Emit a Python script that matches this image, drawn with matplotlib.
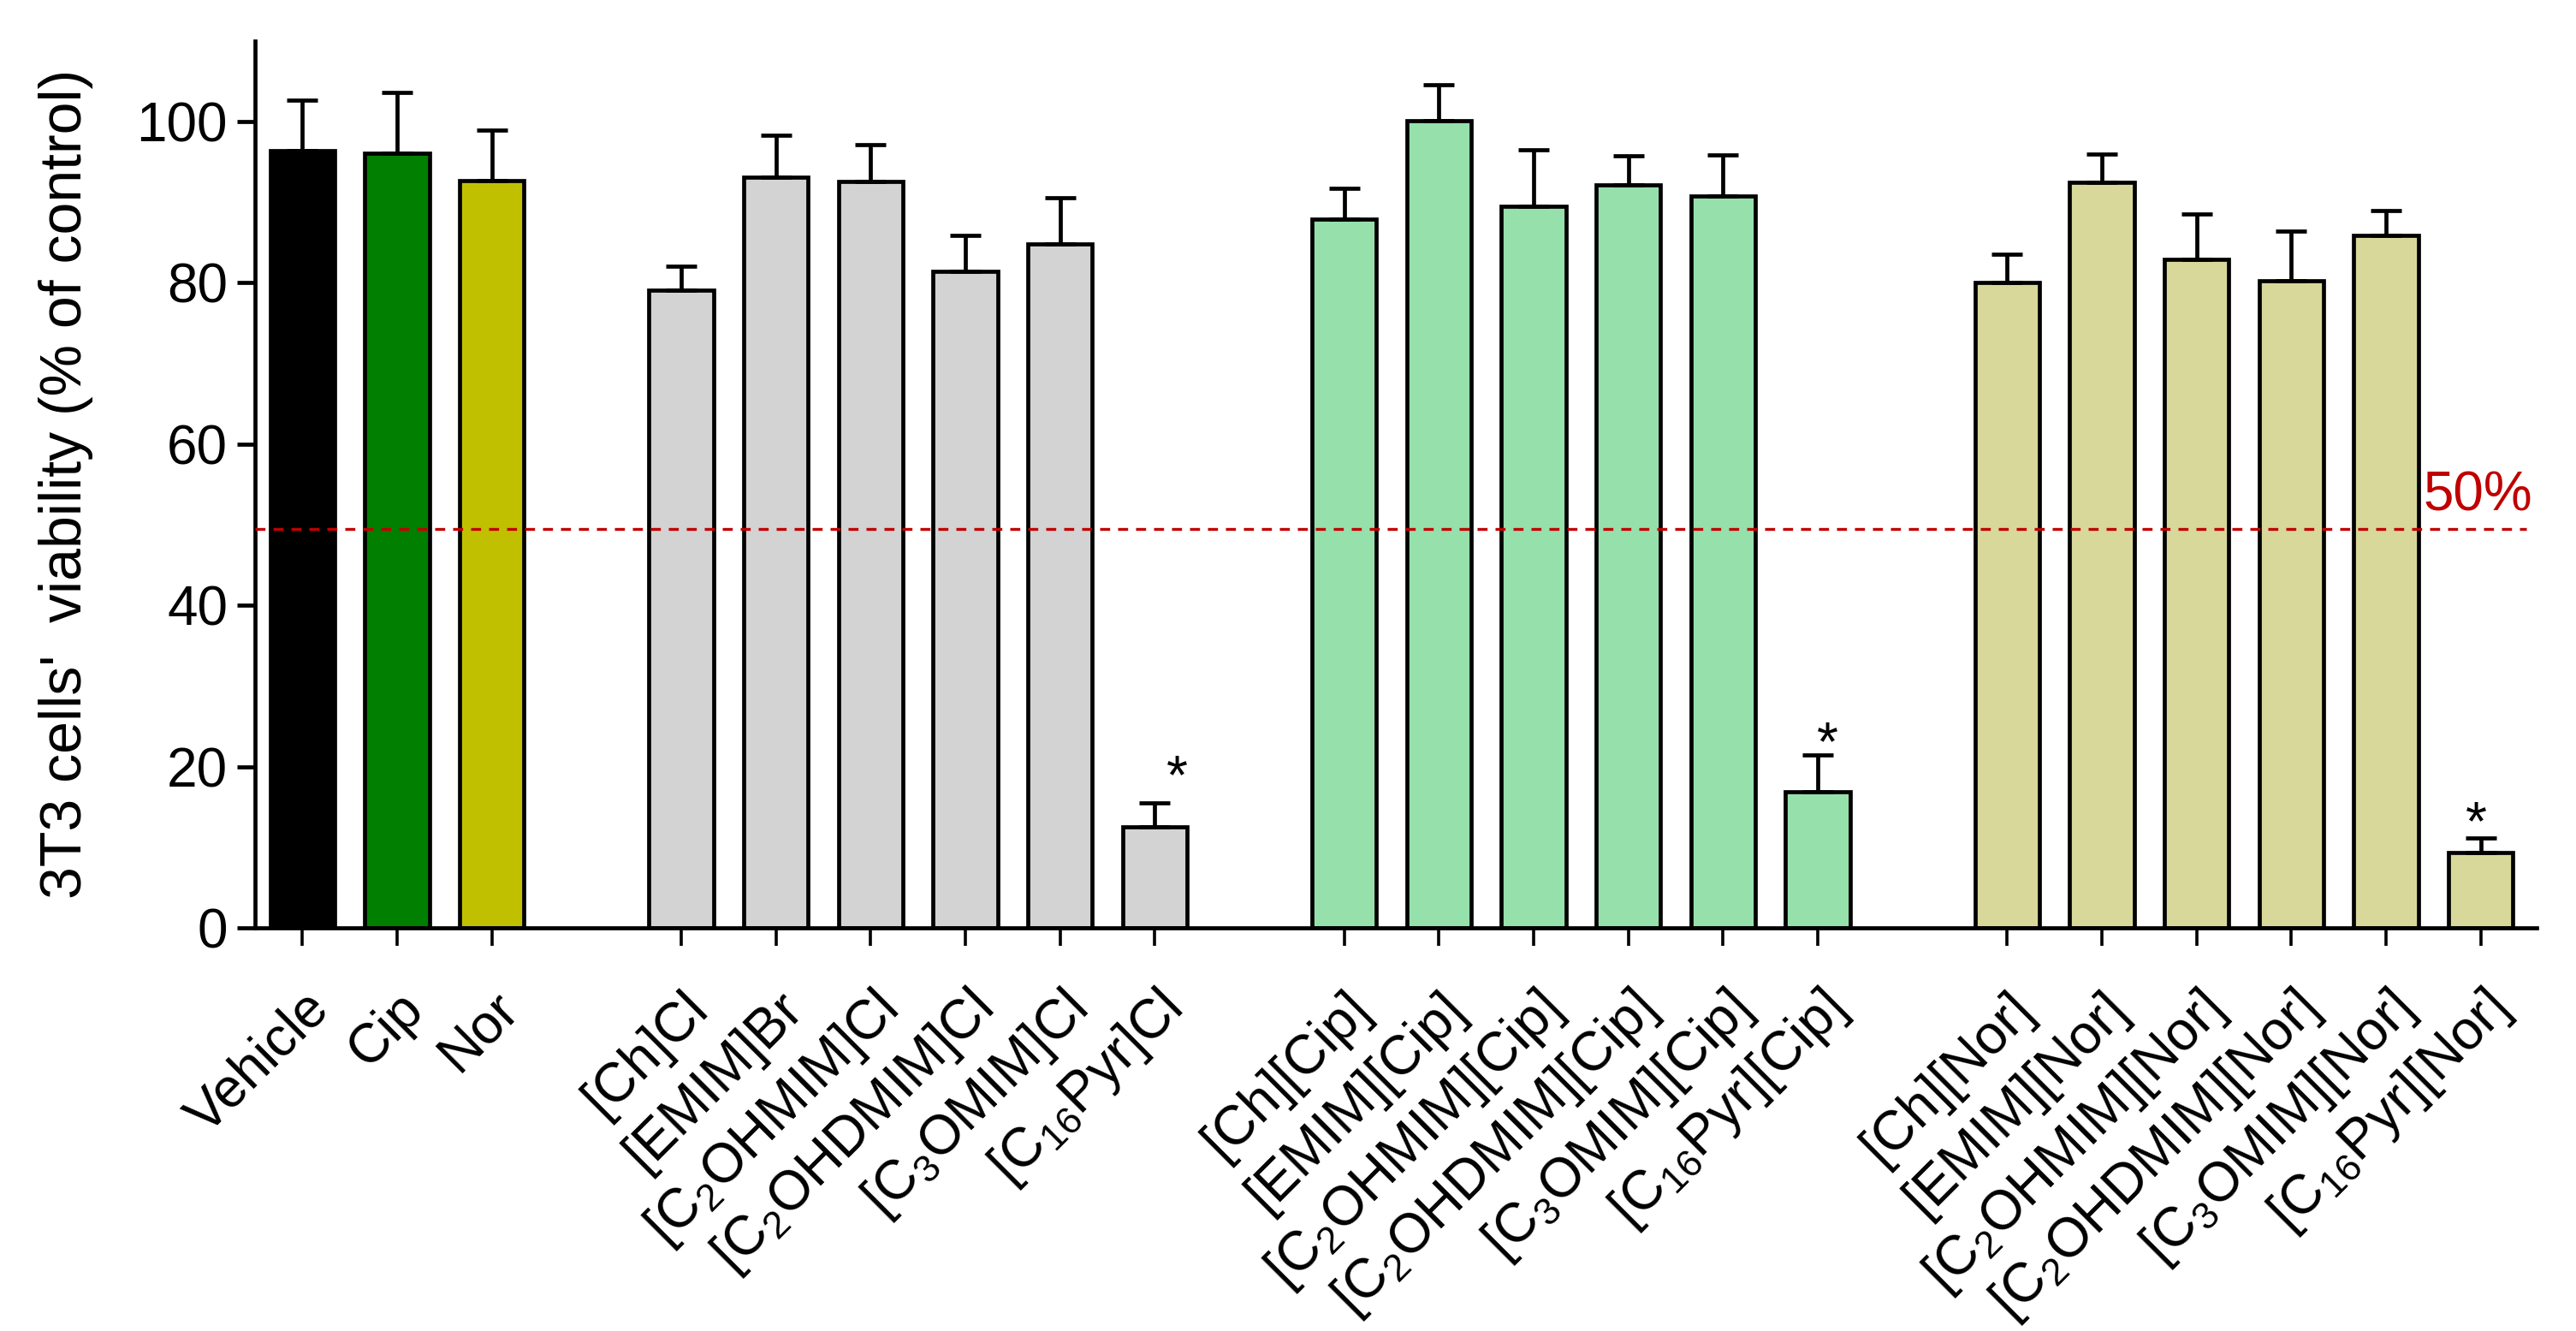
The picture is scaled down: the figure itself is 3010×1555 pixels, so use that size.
import numpy as np
import matplotlib
matplotlib.use("Agg")
import matplotlib.pyplot as plt
from matplotlib.transforms import offset_copy

plt.rcParams["font.family"] = ["Liberation Sans", "DejaVu Sans"]
plt.rcParams["mathtext.default"] = "regular"

# bar labels, x slots (gaps between groups) and values
labels = ["Vehicle", "Cip", "Nor",
          "[Ch]Cl", "[EMIM]Br", "[C$_2$OHMIM]Cl", "[C$_2$OHDMIM]Cl", "[C$_3$OMIM]Cl", "[C$_{16}$Pyr]Cl",
          "[Ch][Cip]", "[EMIM][Cip]", "[C$_2$OHMIM][Cip]", "[C$_2$OHDMIM][Cip]", "[C$_3$OMIM][Cip]", "[C$_{16}$Pyr][Cip]",
          "[Ch][Nor]", "[EMIM][Nor]", "[C$_2$OHMIM][Nor]", "[C$_2$OHDMIM][Nor]", "[C$_3$OMIM][Nor]", "[C$_{16}$Pyr][Nor]"]
positions = [0, 1, 2, 4, 5, 6, 7, 8, 9, 11, 12, 13, 14, 15, 16, 18, 19, 20, 21, 22, 23]
means = [96.4, 96.1, 92.7,
         79.1, 93.1, 92.6, 81.4, 84.8, 12.5,
         87.9, 100.1, 89.5, 92.1, 90.8, 16.9,
         80.0, 92.5, 82.9, 80.3, 85.9, 9.3]
errors = [6.2, 7.5, 6.2,
          3.0, 5.2, 4.5, 4.5, 5.7, 3.0,
          3.8, 4.5, 7.0, 3.7, 5.1, 4.5,
          3.5, 3.5, 5.6, 6.1, 3.1, 1.8]
colors = ["#000000", "#007F00", "#C0C000"] + ["#D3D3D3"] * 6 + ["#96E0AB"] * 6 + ["#D8D89B"] * 6

# significance stars: bar index, x shift, y of star centre
star_idx = [8, 14, 20]
star_dx = [0.24, 0.10, -0.05]
star_y = [20.7, 24.8, 14.9]

threshold = 49.5
red = "#C00000"

fig = plt.figure(figsize=(30.1, 15.55), dpi=100)
ax = fig.add_axes([0.099, 0.3029, 0.8857, 0.6664])

ax.bar(positions, means, width=0.68, color=colors, edgecolor="black", linewidth=3.4, zorder=2)
ax.errorbar(positions, means, yerr=[np.zeros(len(errors)), errors], fmt="none",
            ecolor="black", elinewidth=3.4, capsize=13, capthick=3.4, zorder=3)

# 50% line
ax.hlines(threshold, -0.5, 23.48, colors=red, linewidth=2.4, linestyle=(0, (3.5, 2.8)), zorder=4)
ax.text(23.55, 51.75, "50%", color=red, fontsize=46, ha="right", va="baseline")

# stars sit above the error bars
star_tr = offset_copy(ax.transData, fig=fig, y=-0.59 * 46, units="points")
for i, dx, sy in zip(star_idx, star_dx, star_y):
    ax.text(positions[i] + dx, sy, "*", fontsize=46, ha="center", va="baseline", transform=star_tr)

ax.set_xlim(-0.5, 23.59)
ax.set_ylim(0, 110)
ax.set_yticks([0, 20, 40, 60, 80, 100])
ax.set_xticks(positions)
ax.set_xticklabels(labels, rotation=45, ha="right", va="top", rotation_mode="anchor")

for side in ["top", "right"]:
    ax.spines[side].set_visible(False)
for side in ["left", "bottom"]:
    ax.spines[side].set_linewidth(3.4)

ax.tick_params(axis="y", length=15, width=3.4, labelsize=46, pad=8)
ax.tick_params(axis="x", length=15, width=2.6, labelsize=46, pad=31)

ax.set_ylabel("3T3 cells'  viability (% of control)", fontsize=49)
ax.yaxis.set_label_coords(-0.071, 0.5)

fig.savefig("out.png", dpi=100)
